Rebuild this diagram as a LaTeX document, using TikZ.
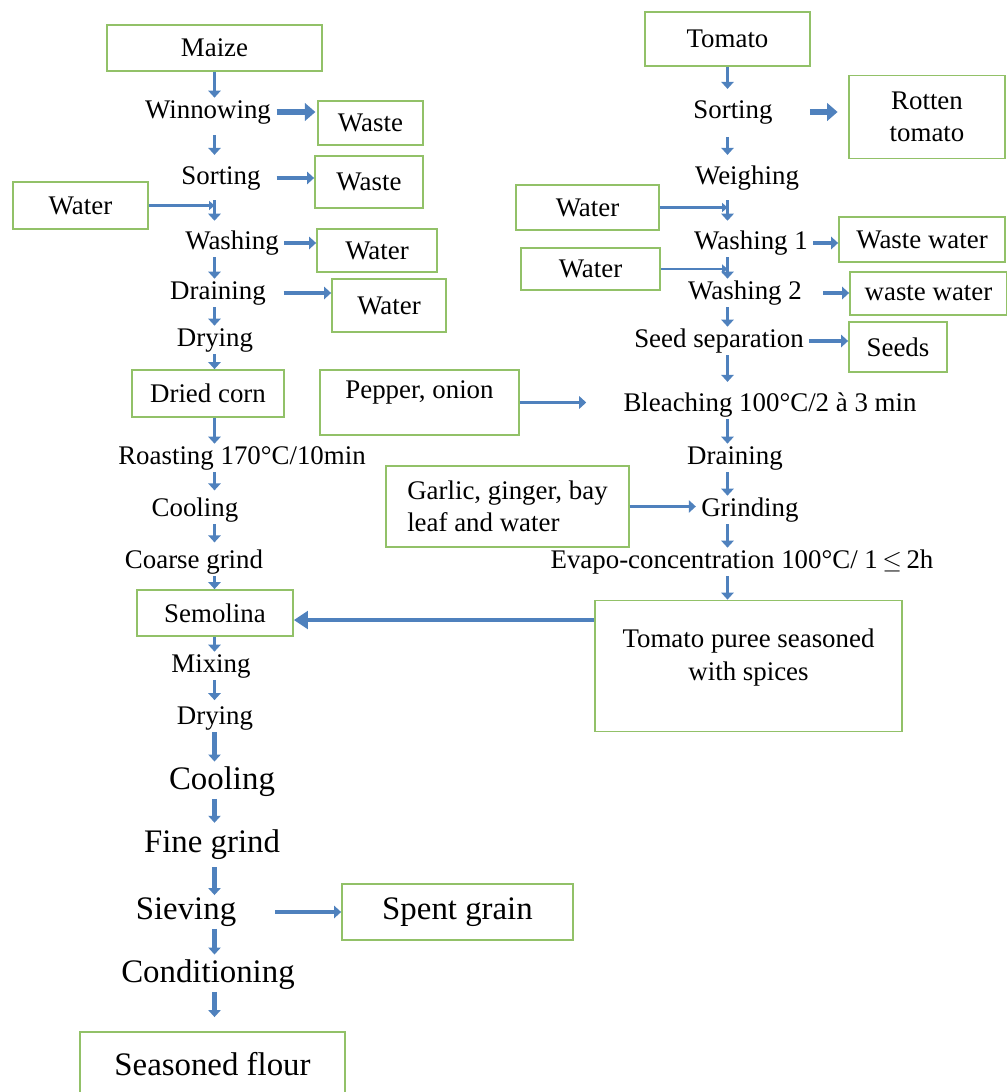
\documentclass[tikz,border=0pt]{standalone}
\usepackage{fontspec}
\setmainfont{Liberation Serif}
\usetikzlibrary{arrows.meta}

\definecolor{boxgreen}{RGB}{146,193,104}
\definecolor{flowblue}{RGB}{79,129,189}

\tikzstyle{box}=[rectangle,draw=boxgreen,line width=1pt,inner sep=0pt]
\tikzstyle{stage}=[inner xsep=3pt,inner ysep=1pt,text height=10.5pt,text depth=3.4pt]
\tikzstyle{bigstage}=[inner xsep=3pt,inner ysep=1pt,text height=12.8pt,text depth=4.1pt,font=\fontsize{18.7}{22}\selectfont]
\tikzstyle{flow}=[draw=flowblue,line width=2.2pt]
\tikzstyle{side}=[draw=flowblue,line width=2.2pt]
\tikzstyle{fat}=[draw=flowblue,line width=3.2pt,-{Triangle[length=6pt,width=10pt]}]
\tikzstyle{feed}=[draw=flowblue,line width=1.6pt,-{Triangle[length=3pt,width=5pt]}]
\tikzstyle{link}=[draw=flowblue,line width=2.2pt,-{Triangle[length=8pt,width=10pt]}]

\begin{document}
\begin{tikzpicture}[->, >={Triangle[length=4pt,width=7pt]}, x=0.02cm, y=-0.02cm,
    font=\fontsize{15.3}{18.5}\selectfont]
    \useasboundingbox (0,0) rectangle (1007,1092);

    % maize line
    \node [box,minimum width=4.3cm,minimum height=0.92cm]  (maize)    at (214.5,48)  {Maize};
    \node [stage]                                          (winnow)   at (208,112)   {Winnowing};
    \node [box,minimum width=2.1cm,minimum height=0.88cm]  (wasteA)   at (370.5,123) {Waste};
    \node [stage]                                          (sortL)    at (221,178)   {Sorting};
    \node [box,minimum width=2.16cm,minimum height=1.04cm] (wasteB)   at (369,182)   {Waste};
    \node [box,minimum width=2.7cm,minimum height=0.94cm]  (waterA)   at (80.5,205.5) {Water};
    \node [stage]                                          (washL)    at (232,243)   {Washing};
    \node [box,minimum width=2.4cm,minimum height=0.86cm]  (waterB)   at (377,250.5) {Water};
    \node [stage]                                          (drainL)   at (218,293)   {Draining};
    \node [box,minimum width=2.28cm,minimum height=1.06cm] (waterC)   at (389,305.5) {Water};
    \node [stage]                                          (dryL)     at (215,340)   {Drying};
    \node [box,minimum width=3.04cm,minimum height=0.94cm] (dried)    at (208,393.5) {Dried corn};
    \node [stage]                                          (roast)    at (242,458)   {Roasting 170°C/10min};
    \node [stage]                                          (coolL)    at (195,510)   {Cooling};
    \node [stage]                                          (coarse)   at (194,562)   {Coarse grind};
    \node [box,minimum width=3.12cm,minimum height=0.92cm] (semolina) at (215,613)   {Semolina};
    \node [stage]                                          (mix)      at (211,666)   {Mixing};
    \node [stage]                                          (dryL2)    at (215,718)   {Drying};
    \node [bigstage]                                       (coolB)    at (222,782)   {Cooling};
    \node [bigstage]                                       (fine)     at (212,845)   {Fine grind};
    \node [bigstage]                                       (sieve)    at (186,912)   {Sieving};
    \node [box,font=\fontsize{18.7}{22}\selectfont,minimum width=4.62cm,minimum height=1.12cm] (spent) at (457.5,912) {Spent grain};
    \node [bigstage]                                       (cond)     at (208,975)   {Conditioning};
    \node [box,font=\fontsize{18.7}{22}\selectfont,minimum width=5.3cm,minimum height=1.28cm] (flour) at (212.5,1064) {Seasoned flour};

    % tomato line
    \node [box,minimum width=3.3cm,minimum height=1.08cm]  (tomato)   at (727.5,39)  {Tomato};
    \node [stage]                                          (sortR)    at (733,112)   {Sorting};
    \node [box,align=center,minimum width=3.12cm,minimum height=1.66cm] (rotten) at (927,117) {Rotten\\tomato};
    \node [stage]                                          (weigh)    at (747,178)   {Weighing};
    \node [box,minimum width=2.86cm,minimum height=0.9cm]  (waterD)   at (587.5,207.5) {Water};
    \node [stage]                                          (wash1)    at (751,243)   {Washing 1};
    \node [box,minimum width=3.32cm,minimum height=0.9cm]  (wwA)      at (922,239.5) {Waste water};
    \node [box,minimum width=2.78cm,minimum height=0.84cm] (waterE)   at (590.5,269) {Water};
    \node [stage]                                          (wash2)    at (745,293)   {Washing 2};
    \node [box,minimum width=3.14cm,minimum height=0.86cm] (wwB)      at (928.5,293.5) {waste water};
    \node [stage]                                          (seedsep)  at (719,341)   {Seed separation};
    \node [box,minimum width=1.96cm,minimum height=1cm]    (seeds)    at (898,347)   {Seeds};
    \node [box,minimum width=3.98cm,minimum height=1.3cm,
           label={[anchor=north,yshift=-0.1cm]north:{Pepper, onion}}] (pepper) at (419.5,402.5) {};
    \node [stage]                                          (bleach)   at (770,405)   {Bleaching 100°C/2 à 3 min};
    \node [stage]                                          (drainR)   at (735,458)   {Draining};
    \node [box,align=left,minimum width=4.86cm,minimum height=1.62cm] (garlic) at (507.5,506.5) {Garlic, ginger, bay\\leaf and water};
    \node [stage]                                          (grind)    at (750,510)   {Grinding};
    \node [stage]                                          (evapo)    at (742,562)   {Evapo-concentration 100°C/ 1\,$\leq$\,2h};
    \node [box,minimum width=6.14cm,minimum height=2.62cm,
           label={[anchor=north,yshift=-0.46cm,align=center]north:{Tomato puree seasoned\\with spices}}] (puree) at (748.5,666) {};

    % main flow, maize
    \draw [flow] (maize) -- (winnow.north -| maize);
    \draw [flow,shorten <=5pt,shorten >=5pt] (winnow.south -| maize) -- (sortL.north -| maize);
    \draw [flow,shorten <=4.5pt,shorten >=4.5pt] (sortL.south -| maize) -- (washL.north -| maize);
    \draw [flow] (washL.south -| maize)   -- (drainL.north -| maize);
    \draw [flow] (drainL.south -| maize)  -- (dryL.north -| maize);
    \draw [flow] (dryL.south -| maize)    -- (dried.north -| maize);
    \draw [flow] (dried.south -| maize)   -- (roast.north -| maize);
    \draw [flow,shorten >=3pt] (roast.south -| maize) -- (coolL.north -| maize);
    \draw [flow,shorten >=3pt] (coolL.south -| maize) -- (coarse.north -| maize);
    \draw [flow] (coarse.south -| maize)  -- (semolina.north -| maize);
    \draw [flow] (semolina.south -| maize) -- (mix.north -| maize);
    \draw [flow,shorten >=2pt] (mix.south -| maize) -- (dryL2.north -| maize);
    \draw [flow,line width=2.6pt,shorten >=2pt] (dryL2.south -| maize) -- (coolB.north -| maize);
    \draw [flow,line width=2.6pt,shorten >=3pt] (coolB.south -| maize) -- (fine.north -| maize);
    \draw [flow,line width=2.6pt,shorten <=3pt] (fine.south -| maize) -- (sieve.north -| maize);
    \draw [flow,line width=2.6pt,shorten >=2pt] (sieve.south -| maize) -- (cond.north -| maize);
    \draw [flow,line width=2.6pt,shorten >=8pt] (cond.south -| maize) -- (flour.north -| maize);

    % side flows, maize
    \draw [fat,shorten >=1pt]  (winnow.east) -- (winnow.east -| wasteA.west);
    \draw [side,shorten <=6pt] (sortL.east)  -- (sortL.east -| wasteB.west);
    \draw [side]               (washL.east)  -- (washL.east -| waterB.west);
    \draw [side,shorten <=7pt] (drainL.east) -- (drainL.east -| waterC.west);
    \draw [feed]               (waterA)      -- (waterA -| maize);
    \draw [side,line width=2.6pt,shorten <=19pt] (sieve.east) -- (sieve.east -| spent.west);

    % main flow, tomato
    \draw [flow,shorten >=5pt] (tomato) -- (sortR.north -| tomato);
    \draw [flow,shorten <=6pt,shorten >=5pt] (sortR.south -| tomato) -- (weigh.north -| tomato);
    \draw [flow,shorten <=4.5pt,shorten >=4.5pt] (weigh.south -| tomato) -- (wash1.north -| tomato);
    \draw [flow] (wash1.south -| tomato)   -- (wash2.north -| tomato);
    \draw [flow] (wash2.south -| tomato)   -- (seedsep.north -| tomato);
    \draw [flow,shorten >=5pt] (seedsep.south -| tomato) -- (bleach.north -| tomato);
    \draw [flow] (bleach.south -| tomato)  -- (drainR.north -| tomato);
    \draw [flow] (drainR.south -| tomato)  -- (grind.north -| tomato);
    \draw [flow] (grind.south -| tomato)   -- (evapo.north -| tomato);
    \draw [flow] (evapo.south -| tomato)   -- (puree.north -| tomato);

    % side flows, tomato
    \draw [fat,shorten <=18pt,shorten >=6pt] (sortR.east) -- (sortR.east -| rotten.west);
    \draw [feed]                (waterD)       -- (waterD -| tomato);
    \draw [side]                (wash1.east)   -- (wash1.east -| wwA.west);
    \draw [feed]                (waterE)       -- (waterE -| tomato);
    \draw [side,shorten <=9pt]  (wash2.east)   -- (wash2.east -| wwB.west);
    \draw [side]                (seedsep.east) -- (seedsep.east -| seeds.west);
    \draw [side,shorten >=18pt] (pepper.east)  -- (pepper.east -| bleach.west);
    \draw [side]                (garlic.east)  -- (garlic.east -| grind.west);
    \draw [link] ([yshift=-4pt]puree.west |- semolina.east) -- ([yshift=-4pt]semolina.east);
\end{tikzpicture}
\end{document}
